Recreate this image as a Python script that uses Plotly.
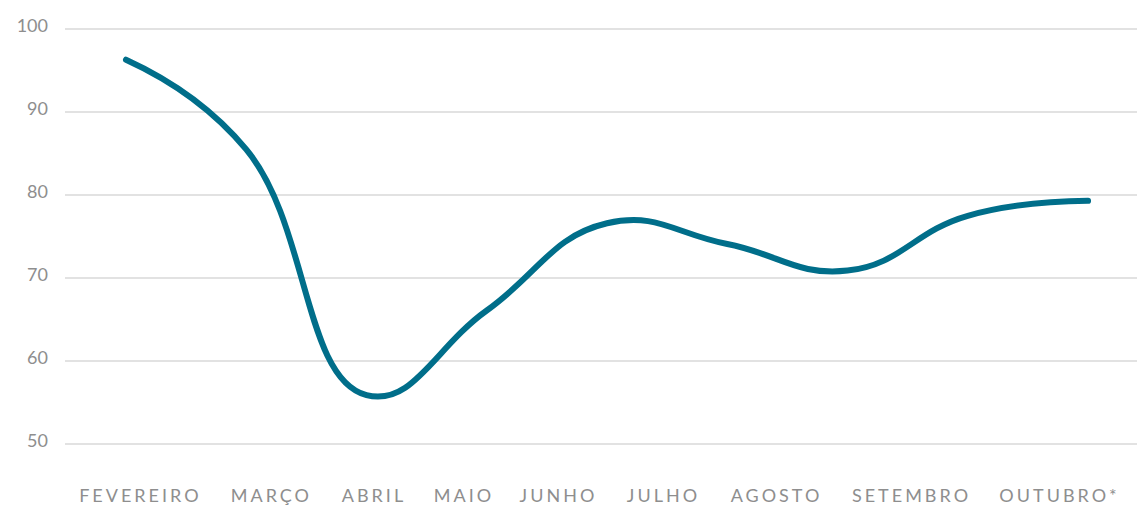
import plotly.graph_objects as go

months = ["FEVEREIRO", "MARÇO", "ABRIL", "MAIO", "JUNHO", "JULHO", "AGOSTO", "SETEMBRO", "OUTUBRO*"]
values = [96.3, 85.5, 55.9, 66.1, 76.6, 74.1, 70.9, 77.5, 79.3]
y_ticks = [50, 60, 70, 80, 90, 100]

x_idx = list(range(len(months)))
# label centres (in index units) — labels are spread evenly by their text gaps in the original
label_pos = [0.12, 1.209, 2.062, 2.81, 3.596, 4.469, 5.409, 6.532, 7.763]

fig = go.Figure()
fig.add_trace(go.Scatter(
    x=x_idx, y=values, mode="lines",
    line=dict(color="#006e8a", width=6, shape="spline", smoothing=1.3),
    hoverinfo="skip", showlegend=False,
))

font = dict(family="Lato, 'DejaVu Sans', sans-serif", size=18, color="#8e8e8e")

fig.update_layout(
    width=1137, height=506,
    margin=dict(l=65, r=0, t=10, b=46),
    paper_bgcolor="white", plot_bgcolor="white",
    xaxis=dict(
        range=[-0.507, 8.407], showgrid=False, zeroline=False, showline=False,
        tickmode="array", tickvals=label_pos, ticktext=months,
        tickfont=font, ticks="", ticklabelstandoff=30,
    ),
    yaxis=dict(
        range=[48.93, 102.29], tickmode="array", tickvals=y_ticks,
        showgrid=True, gridcolor="#e2e2e2", gridwidth=2,
        zeroline=False, showline=False, tickfont=font, ticks="",
        ticklabelstandoff=16, ticklabelshift=-3,
    ),
)

css = ("<style>.xtick text{letter-spacing:3px;}"
       ".scatterlayer path.js-line{stroke-linecap:round;stroke-linejoin:round;}</style>")
fig.write_html(
    "out.html",
    post_script="document.head.insertAdjacentHTML('beforeend', '" + css + "');",
)
